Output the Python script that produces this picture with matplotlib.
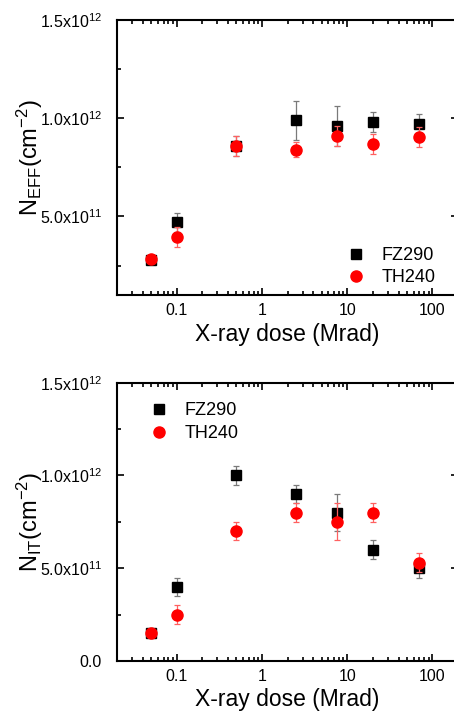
import numpy as np
from matplotlib import pyplot as plt
from matplotlib.ticker import FixedLocator, MultipleLocator, FuncFormatter

plt.rcParams['font.family'] = ['Liberation Sans', 'DejaVu Sans']
plt.rcParams['mathtext.fontset'] = 'custom'
plt.rcParams['mathtext.rm'] = 'Liberation Sans'
plt.rcParams['mathtext.it'] = 'Liberation Sans'

dose = [0.05, 0.1, 0.5, 2.5, 7.5, 20, 70]

# N_EFF (top panel)
neff_fz = [2.8e11, 4.7e11, 8.6e11, 9.9e11, 9.6e11, 9.8e11, 9.7e11]
neff_fz_err = [2e10, 5e10, 5e10, 1.0e11, 1.0e11, 5e10, 5e10]
neff_th = [2.85e11, 3.95e11, 8.6e11, 8.4e11, 9.1e11, 8.7e11, 9.05e11]
neff_th_err = [1.5e10, 5e10, 5e10, 4e10, 5e10, 5e10, 5e10]

# N_IT (bottom panel)
nit_fz = [1.5e11, 4.0e11, 1.0e12, 9.0e11, 8.0e11, 6.0e11, 5.0e11]
nit_fz_err = [1.5e10, 5e10, 5e10, 5e10, 1.0e11, 5e10, 5e10]
nit_th = [1.5e11, 2.5e11, 7.0e11, 8.0e11, 7.5e11, 8.0e11, 5.3e11]
nit_th_err = [1.5e10, 5e10, 5e10, 5e10, 1.0e11, 5e10, 5e10]

xticks = [0.1, 1, 10, 100]
xticklabels = ['0.1', '1', '10', '100']


def sci(v, pos):
    if abs(v) < 1:
        return '0.0'
    if v < 0:
        return ''
    e = int(np.floor(np.log10(v) + 1e-9))
    m = v / 10**e
    return r'%.1fx10$^{%d}$' % (m, e)


def draw(ax, fz, fz_err, th, th_err, ylab, ylim, legloc, anchor):
    ax.errorbar(dose, fz, yerr=fz_err, fmt='s', color='black', ms=7,
                ecolor='#7a7a7a', elinewidth=0.9, capsize=2.5, capthick=0.9,
                label='FZ290', zorder=3)
    ax.errorbar(dose, th, yerr=th_err, fmt='o', color='#ff0000', ms=8,
                ecolor='#ff6060', elinewidth=0.9, capsize=2.5, capthick=0.9,
                label='TH240', zorder=4)
    ax.set_xscale('log')
    ax.set_xlim(0.02, 200)
    ax.set_ylim(*ylim)
    ax.xaxis.set_major_locator(FixedLocator(xticks))
    ax.set_xticklabels(xticklabels)
    ax.yaxis.set_major_locator(MultipleLocator(5e11))
    ax.yaxis.set_minor_locator(MultipleLocator(2.5e11))
    ax.yaxis.set_major_formatter(FuncFormatter(sci))
    ax.tick_params(which='both', direction='in', top=True, right=True,
                   labelsize=11.5, width=1.2)
    ax.tick_params(which='major', length=5)
    ax.tick_params(which='minor', length=3)
    ax.tick_params(axis='y', pad=11)
    ax.tick_params(axis='x', pad=6)
    for s in ax.spines.values():
        s.set_linewidth(1.5)
    ax.set_xlabel('X-ray dose (Mrad)', fontsize=16.5, labelpad=3)
    ax.set_ylabel(ylab, fontsize=17, labelpad=-4)
    h, l = ax.get_legend_handles_labels()
    h = [x[0] for x in h]
    ax.legend(h, l, loc=legloc, bbox_to_anchor=anchor, frameon=False,
              fontsize=13, handletextpad=0.4, borderaxespad=0.0,
              labelspacing=0.3)


fig = plt.figure(figsize=(4.54, 7.19), dpi=100)
ax1 = fig.add_axes([0.258, 0.5897, 0.751, 0.3825])
ax2 = fig.add_axes([0.258, 0.0807, 0.751, 0.387])

draw(ax1, neff_fz, neff_fz_err, neff_th, neff_th_err,
     r'N$_{\mathregular{EFF}}$(cm$^{\mathregular{-2}}$)', (1e11, 1.5e12),
     'lower right', (0.955, 0.005))
draw(ax2, nit_fz, nit_fz_err, nit_th, nit_th_err,
     r'N$_{\mathregular{IT}}$(cm$^{\mathregular{-2}}$)', (0, 1.5e12),
     'upper left', (0.05, 0.955))

fig.savefig('out.png', dpi=100)
